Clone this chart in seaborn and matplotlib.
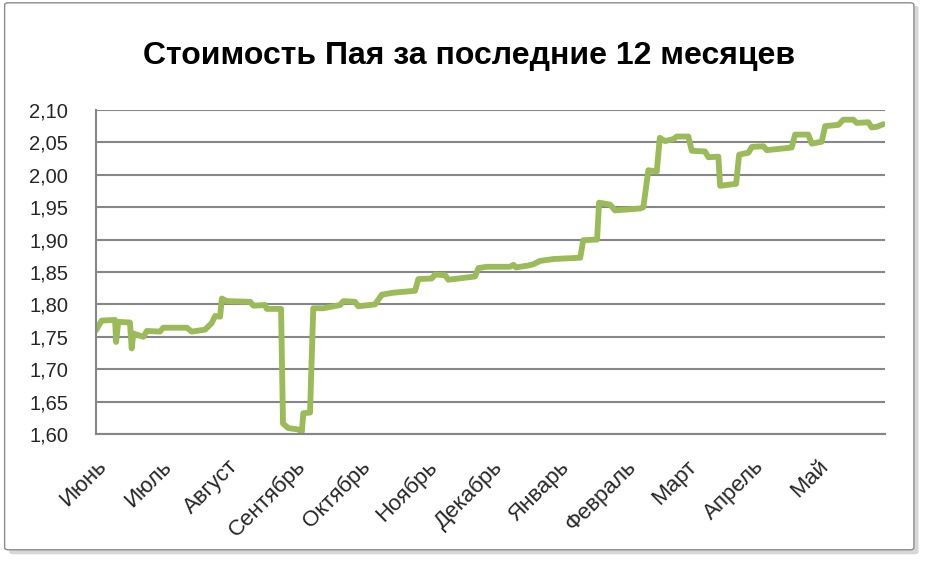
import numpy as np
import pandas as pd
import matplotlib
matplotlib.use("Agg")
import matplotlib.pyplot as plt
import seaborn as sns
from matplotlib.patches import FancyBboxPatch

# Data: day offset from 1 June, unit value
days = [0, 2.6, 8.8, 9.3, 10.3, 15.7, 16.5, 17.3, 21.9, 23.5, 29.6, 31.1, 42.0, 44.3,
        50.4, 53.5, 55.1, 57.4, 58.2, 60.5, 71.3, 72.8, 78.2, 79.0, 85.6, 86.5, 89.0,
        93.6, 95.2, 95.9, 99.0, 100.5, 105.2, 112.9, 114.4, 119.8, 121.3, 129.1, 131.4,
        132.2, 137.5, 147.6, 149.1, 155.3, 156.8, 161.5, 163.0, 175.3, 176.9, 180.7,
        191.5, 193.1, 194.3, 200.0, 202.3, 205.4, 211.6, 224.0, 225.4, 231.8, 232.7,
        237.8, 240.1, 251.7, 253.2, 255.5, 259.4, 260.8, 263.2, 267.1, 268.6, 274.0,
        275.6, 281.7, 283.3, 287.9, 288.7, 296.1, 297.5, 301.8, 303.4, 308.7, 310.3,
        321.8, 323.4, 329.5, 331.1, 335.7, 337.3, 343.4, 345.7, 350.3, 351.9, 357.3,
        358.8, 361.2, 364.2]
values = [1.760, 1.775, 1.776, 1.742, 1.773, 1.772, 1.732, 1.755, 1.750, 1.759, 1.758,
          1.764, 1.764, 1.758, 1.761, 1.771, 1.782, 1.781, 1.809, 1.805, 1.804, 1.798,
          1.799, 1.793, 1.793, 1.616, 1.609, 1.607, 1.603, 1.632, 1.633, 1.794, 1.794,
          1.799, 1.805, 1.804, 1.797, 1.800, 1.811, 1.815, 1.818, 1.821, 1.839, 1.840,
          1.846, 1.845, 1.838, 1.843, 1.856, 1.858, 1.858, 1.861, 1.857, 1.860, 1.862,
          1.867, 1.870, 1.872, 1.899, 1.900, 1.957, 1.954, 1.945, 1.948, 1.950, 2.007,
          2.005, 2.057, 2.052, 2.055, 2.059, 2.059, 2.037, 2.036, 2.027, 2.028, 1.983,
          1.986, 2.031, 2.034, 2.043, 2.044, 2.038, 2.042, 2.062, 2.062, 2.048, 2.051,
          2.075, 2.077, 2.085, 2.085, 2.080, 2.081, 2.073, 2.074, 2.078]
month_labels = ["Июнь", "Июль", "Август", "Сентябрь", "Октябрь", "Ноябрь", "Декабрь",
                "Январь", "Февраль", "Март", "Апрель", "Май"]
month_starts = [0, 30, 61, 92, 122, 153, 183, 214, 245, 273, 304, 334]
y_ticks = [1.60, 1.65, 1.70, 1.75, 1.80, 1.85, 1.90, 1.95, 2.00, 2.05, 2.10]
title = "Стоимость Пая за последние 12 месяцев"

df = pd.DataFrame({"day": days, "value": values})

sns.set_theme(style="white")
plt.rcParams["font.family"] = ["Liberation Sans", "DejaVu Sans"]

fig = plt.figure(figsize=(9.25, 5.61), dpi=100)
fig.patch.set_facecolor("white")

# outer chart border with shadow
shadow = FancyBboxPatch((0.010, 0.012), 0.983, 0.978, transform=fig.transFigure,
                        boxstyle="round,pad=0,rounding_size=0.004",
                        facecolor="#b0b0b0", edgecolor="none", alpha=0.5, zorder=0)
border = FancyBboxPatch((0.005, 0.020), 0.983, 0.975, transform=fig.transFigure,
                        boxstyle="round,pad=0,rounding_size=0.004",
                        facecolor="white", edgecolor="#8c8c8c", linewidth=1.0, zorder=1)
fig.patches.extend([shadow, border])

ax = fig.add_axes([0.1038, 0.2264, 0.853, 0.5776])
ax.set_zorder(5)
ax.set_facecolor("none")
sns.lineplot(data=df, x="day", y="value", ax=ax, color="#9BBB59", linewidth=4.2,
             solid_joinstyle="round", solid_capstyle="round")

ax.set_xlim(0, 365)
ax.set_ylim(1.60, 2.10)
ax.set_yticks(y_ticks)
ax.set_yticklabels([f"{v:.2f}".replace(".", ",") for v in y_ticks], fontsize=14.5)
ax.set_xticks(month_starts)
ax.set_xticklabels(month_labels, rotation=45, ha="right", rotation_mode="anchor",
                   fontsize=16)
ax.tick_params(axis="x", length=0, pad=16)
ax.tick_params(axis="y", length=0, pad=20)
ax.grid(axis="y", color="#868686", linewidth=1.5)
ax.grid(axis="x", visible=False)
ax.set_axisbelow(True)
for s in ["top", "right"]:
    ax.spines[s].set_visible(False)
ax.spines["left"].set_color("#868686")
ax.spines["left"].set_linewidth(1.5)
ax.spines["bottom"].set_color("#868686")
ax.spines["bottom"].set_linewidth(1.5)
ax.set_xlabel("")
ax.set_ylabel("")

fig.text(0.507, 0.900, title, ha="center", va="center", fontsize=23,
         fontweight="bold", color="black", zorder=6)

fig.savefig("out.png", dpi=100, facecolor="white")
